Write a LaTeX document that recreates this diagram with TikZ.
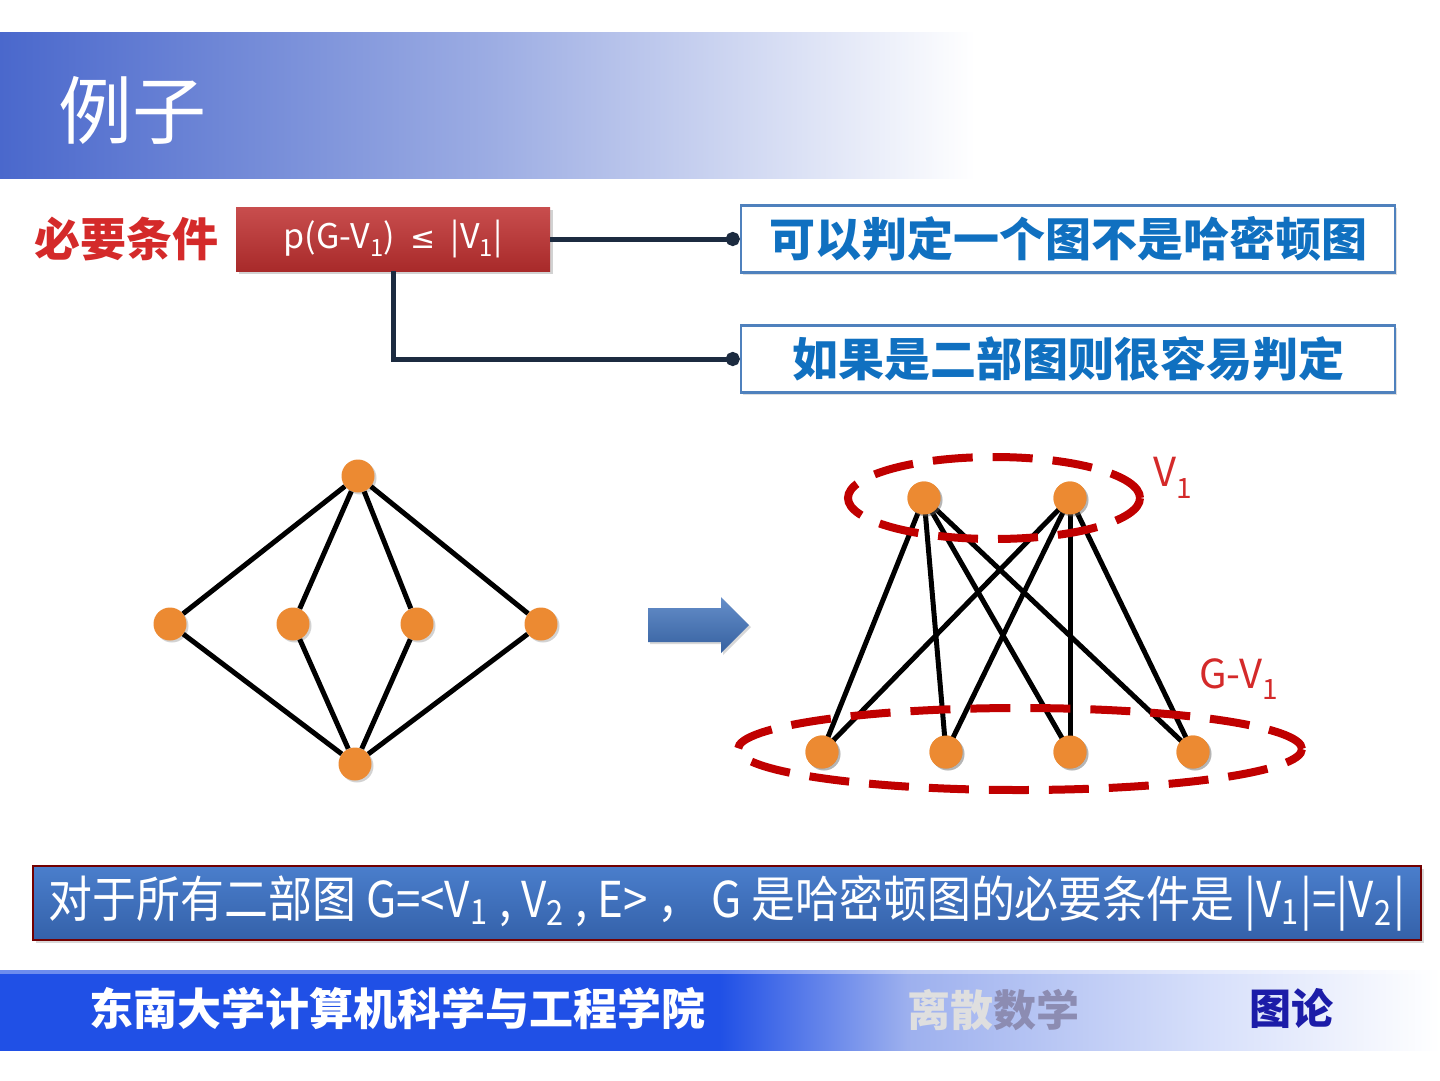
\documentclass[tikz,border=0pt]{standalone}
\usepackage{fontspec}
\setmainfont{Noto Sans CJK SC}
\newfontfamily\symfont{DejaVu Sans}
\usetikzlibrary{arrows.meta,shadows,shapes.geometric,calc}
\definecolor{titleblue}{HTML}{4A68CC}
\definecolor{footblue}{HTML}{2050E6}
\definecolor{footmid}{HTML}{9DB0EE}
\definecolor{redbox}{HTML}{C23A3A}
\definecolor{redboxd}{HTML}{A82A2A}
\definecolor{needred}{HTML}{D42A2A}
\definecolor{conn}{HTML}{1C2B40}
\definecolor{boxborder}{HTML}{4F81BD}
\definecolor{boxtext}{HTML}{1070C0}
\definecolor{vorange}{HTML}{EC8A32}
\definecolor{dashred}{HTML}{C00000}
\definecolor{barblue}{HTML}{3A6CBC}
\definecolor{barbluel}{HTML}{4A7ECC}
\definecolor{arrowblue}{HTML}{3F72BC}
\definecolor{tulun}{HTML}{1C1CA8}
\pgfdeclarehorizontalshading{footshade}{100bp}{color(0bp)=(footblue); color(50bp)=(footblue); color(56.5bp)=(footmid); color(67bp)=(footblue!18!white); color(75bp)=(white); color(100bp)=(white)}
\begin{document}
\begin{tikzpicture}[x=1pt,y=-1pt,
  vtx/.style={circle, fill=vorange, minimum size=33pt, inner sep=0pt,
    drop shadow={opacity=0.35, shadow xshift=2pt, shadow yshift=-2pt}},
  edgeline/.style={line width=5pt, black},
  grp/.style={ellipse, draw=dashred, line width=8pt, dash pattern=on 40pt off 20pt, minimum width=#1},
  infobox/.style={draw=boxborder, line width=2.5pt, fill=white, text=boxtext,
    font=\bfseries\fontsize{46}{50}\selectfont, minimum width=654pt, minimum height=67pt, inner sep=0pt,
    drop shadow={opacity=0.25, shadow xshift=2pt, shadow yshift=-2pt}},
  connline/.style={line width=5pt, conn, -{Circle[length=14pt,width=14pt]}},
  redlabel/.style={text=needred, font=\fontsize{40}{44}\selectfont, inner sep=0pt},
  foottext/.style={font=\bfseries\fontsize{44}{48}\selectfont, anchor=west, inner sep=0pt}
]
\useasboundingbox (0,0) rectangle (1440,1080);
\fill[white] (0,0) rectangle (1440,1080);

% title bar
\shade[left color=titleblue, right color=white, middle color=titleblue!55!white] (0,32) rectangle (975,178);
\node[text=white, font=\fontsize{74}{80}\selectfont, anchor=west, inner sep=0pt] (title) at (58,110) {例子};

% necessary condition
\node[text=needred, font=\bfseries\fontsize{46}{50}\selectfont, anchor=west, inner sep=0pt] (need) at (34,239) {必要条件};
\node[top color=redbox!90!white, bottom color=redboxd, minimum width=314pt, minimum height=64pt, inner sep=0pt,
  text=white, font=\fontsize{34}{38}\selectfont,
  drop shadow={opacity=0.35, shadow xshift=3pt, shadow yshift=-3pt}] (pbox) at (393,239)
  {p(G-V\textsubscript{1}) \ {\symfont\fontsize{30}{34}\selectfont ≤} \ |V\textsubscript{1}|};

\node[infobox] (c1) at (1068,239) {可以判定一个图不是哈密顿图};
\node[infobox] (c2) at (1068,359) {如果是二部图则很容易判定};
\draw[connline] (pbox.east) -- (c1.west);
\draw[connline] (pbox.south) |- (c2.west);

% left graph
\node[vtx] (t) at (358,476) {};
\node[vtx] (m1) at (170,624) {};
\node[vtx] (m2) at (293,624) {};
\node[vtx] (m3) at (417,624) {};
\node[vtx] (m4) at (541,624) {};
\node[vtx] (b) at (355,764) {};
\foreach \m in {m1,m2,m3,m4} {
  \draw[edgeline] (t) -- (\m);
  \draw[edgeline] (\m) -- (b);
}

% arrow
\shade[top color=arrowblue!80!white, bottom color=arrowblue!85!black, drop shadow={opacity=0.3, shadow xshift=2pt, shadow yshift=-2pt}]
  (648,608) -- (721,608) -- (721,597) -- (749,625) -- (721,653) -- (721,642) -- (648,642) -- cycle;

% right graph
\node[vtx] (u1) at (924,498) {};
\node[vtx] (u2) at (1070,498) {};
\node[vtx] (w1) at (822,752) {};
\node[vtx] (w2) at (946,752) {};
\node[vtx] (w3) at (1070,752) {};
\node[vtx] (w4) at (1193,752) {};
\foreach \u in {u1,u2} \foreach \w in {w1,w2,w3,w4} {
  \draw[edgeline] (\u.center) -- (\w.center);
}
\foreach \n in {u1,u2,w1,w2,w3,w4} \node[vtx] at (\n) {};

\node[grp=292pt, minimum height=82pt] (gv1) at (994,498) {};
\node[grp=564pt, minimum height=82pt] (ggv) at (1020,749) {};
\node[redlabel, anchor=west] (lv1) at (1153,478) {V\textsubscript{1}};
\node[redlabel, anchor=west] (lgv) at (1199,679) {G-V\textsubscript{1}};

% bottom statement bar
\node[top color=barbluel, bottom color=barblue!90!black, draw=red!45!black, line width=1.2pt,
  minimum width=1388pt, minimum height=74pt, inner sep=0pt,
  drop shadow={opacity=0.3, shadow xshift=3pt, shadow yshift=-3pt}] (stmt) at (727,903) {};
\node[text=white, inner sep=0pt] (stmttext) at (727,903)
  {\resizebox{1356pt}{42pt}{对于所有二部图 G=<V\textsubscript{1} , V\textsubscript{2} , E> ， G 是哈密顿图的必要条件是 |V\textsubscript{1}|=|V\textsubscript{2}|}};

% footer
\shade[shading=footshade] (0,970) rectangle (1440,1050);
\fill[white, opacity=0.35] (0,970) rectangle (1440,974);
\node[foottext, text=white] (school) at (89,1009) {东南大学计算机科学与工程学院};
\node[foottext, text=gray!25!white, font=\bfseries\fontsize{43}{48}\selectfont] (course) at (907,1010) {离散\textcolor{blue!20!gray!75!white}{数学}};
\node[foottext, text=tulun, font=\bfseries\fontsize{42}{48}\selectfont] (topic) at (1249,1008) {图论};
\end{tikzpicture}
\end{document}
